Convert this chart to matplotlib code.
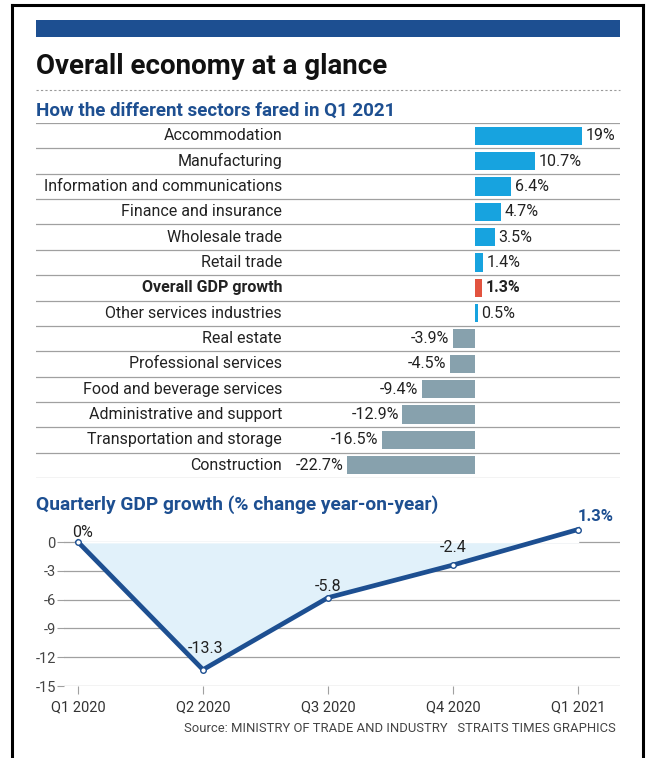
import matplotlib
matplotlib.use("Agg")
import matplotlib.pyplot as plt
from matplotlib.lines import Line2D
from matplotlib.patches import Rectangle
import numpy as np

plt.rcParams['font.family'] = ['Roboto', 'DejaVu Sans']

# ---------------- data ----------------
sectors = ["Accommodation", "Manufacturing", "Information and communications",
           "Finance and insurance", "Wholesale trade", "Retail trade",
           "Overall GDP growth", "Other services industries", "Real estate",
           "Professional services", "Food and beverage services",
           "Administrative and support", "Transportation and storage",
           "Construction"]
sector_growth = [19, 10.7, 6.4, 4.7, 3.5, 1.4, 1.3, 0.5, -3.9, -4.5, -9.4,
                 -12.9, -16.5, -22.7]
sector_labels = ["19%", "10.7%", "6.4%", "4.7%", "3.5%", "1.4%", "1.3%", "0.5%",
                 "-3.9%", "-4.5%", "-9.4%", "-12.9%", "-16.5%", "-22.7%"]

quarters = ["Q1 2020", "Q2 2020", "Q3 2020", "Q4 2020", "Q1 2021"]
gdp = [0, -13.3, -5.8, -2.4, 1.3]
gdp_labels = ["0%", "-13.3", "-5.8", "-2.4", "1.3%"]
yticks = [0, -3, -6, -9, -12, -15]

# ---------------- styles ----------------
W, H = 651, 758
BLUE_DARK = "#1d4f91"
BAR_POS = "#17a3df"
BAR_NEG = "#87a1ad"
BAR_RED = "#e2533f"
GRID = "#a0a0a0"
TXT = "#222222"

fig = plt.figure(figsize=(W / 100, H / 100), dpi=100)

def fx(px):
    return px / W

def fy(py):
    return 1 - py / H

# background overlay axes
bg = fig.add_axes([0, 0, 1, 1])
bg.set_xlim(0, W)
bg.set_ylim(H, 0)
bg.axis("off")

# frame
bg.add_line(Line2D([12, 12], [5, H], color="black", lw=2.2))
bg.add_line(Line2D([643, 643], [5, H], color="black", lw=2.2))
bg.add_line(Line2D([12, 643], [5, 5], color="black", lw=2.2))

# top band
bg.add_patch(Rectangle((36, 20), 584, 17, color=BLUE_DARK, lw=0))

bg.text(36, 66, "Overall economy at a glance", fontsize=20, fontweight="bold",
        color="#111111", va="center", ha="left")
bg.add_line(Line2D([36, 620], [90, 90], color="#9a9a9a", lw=0.8,
                   linestyle=(0, (2, 2))))
bg.text(36, 111, "How the different sectors fared in Q1 2021", fontsize=13.5,
        fontweight="bold", color=BLUE_DARK, va="center", ha="left")
bg.text(36, 505, "Quarterly GDP growth (% change year-on-year)", fontsize=13.8,
        fontweight="bold", color=BLUE_DARK, va="center", ha="left")
bg.text(616, 728, "Source: MINISTRY OF TRADE AND INDUSTRY   STRAITS TIMES GRAPHICS",
        fontsize=9.4, color="#444444", va="center", ha="right")

# ---------------- bar chart ----------------
top_px, bot_px = 123, 478
left_px, right_px = 36, 620
zero_px = 475
scale = 5.63  # px per %
ax = fig.add_axes([fx(left_px), fy(bot_px), fx(right_px - left_px),
                   (bot_px - top_px) / H])
n = len(sectors)
ax.set_xlim(-(zero_px - left_px) / scale, (right_px - zero_px) / scale)
ax.set_ylim(n - 0.5, -0.5)
ax.axis("off")

colors = []
for s, v in zip(sectors, sector_growth):
    if s == "Overall GDP growth":
        colors.append(BAR_RED)
    elif v >= 0:
        colors.append(BAR_POS)
    else:
        colors.append(BAR_NEG)
y = np.arange(n)
ax.barh(y, sector_growth, height=0.72, color=colors, lw=0)

for i in range(n + 1):
    ax.axhline(i - 0.5, color=GRID, lw=0.9, zorder=0)

label_x_axes = (282 - left_px) / (right_px - left_px)
for i, (s, v, lab) in enumerate(zip(sectors, sector_growth, sector_labels)):
    bold = s == "Overall GDP growth"
    ax.text(label_x_axes, i, s, transform=ax.get_yaxis_transform(),
            ha="right", va="center", fontsize=11.5,
            fontweight="bold" if bold else "normal", color=TXT)
    if v >= 0:
        ax.annotate(lab, (v, i), xytext=(2.5, 0), textcoords="offset points",
                    ha="left", va="center", fontsize=11.5,
                    fontweight="bold" if bold else "normal", color=TXT)
    else:
        ax.annotate(lab, (v, i), xytext=(-2.5, 0), textcoords="offset points",
                    ha="right", va="center", fontsize=11.5, color=TXT)

# ---------------- line chart ----------------
lx0, lx1 = 64, 620
ly0, ly1 = 520, 686
q0_px, q_step = 78, 125.0
unit = 9.6
ax2 = fig.add_axes([fx(lx0), fy(ly1), fx(lx1 - lx0), (ly1 - ly0) / H])
xq = np.arange(len(quarters))
ax2.set_xlim(-(q0_px - lx0) / q_step, (lx1 - q0_px) / q_step)
ax2.set_ylim(-15, (542 - ly0) / unit)
for sp in ax2.spines.values():
    sp.set_visible(False)
ax2.set_yticks(yticks)
ax2.set_yticklabels([str(t) for t in yticks])
ax2.tick_params(axis="y", length=5, width=0.8, color=GRID, labelsize=10.5,
                labelcolor="#444444", pad=1)
ax2.set_xticks(xq)
ax2.set_xticklabels(quarters)
ax2.tick_params(axis="x", length=6, width=0.8, color=GRID, labelsize=10.5,
                labelcolor="#333333", direction="out", pad=4)
for t in yticks:
    ax2.axhline(t, color=GRID, lw=0.9, zorder=0)

ax2.fill_between(xq, gdp, 0, interpolate=True, color="#e1f1fa", zorder=1)
# mask fill above zero
ax2.fill_between(xq, np.maximum(gdp, 0), 0, color="white", zorder=1.5)
ax2.plot(xq, gdp, color=BLUE_DARK, lw=3.4, zorder=3, solid_joinstyle="miter")
ax2.plot(xq, gdp, "o", ms=4, mfc="white", mec=BLUE_DARK, mew=1, zorder=4)

offsets = [(3, 1.5), (2, 10), (0, 3), (0, 7), (13, 4)]
for i, (v, lab) in enumerate(zip(gdp, gdp_labels)):
    last = i == len(gdp) - 1
    ax2.annotate(lab, (xq[i], v), xytext=offsets[i], textcoords="offset points",
                 ha="center", va="bottom", fontsize=12 if last else 11.5,
                 fontweight="bold" if last else "normal",
                 color=BLUE_DARK if last else TXT)

fig.savefig("out.png", dpi=100)
